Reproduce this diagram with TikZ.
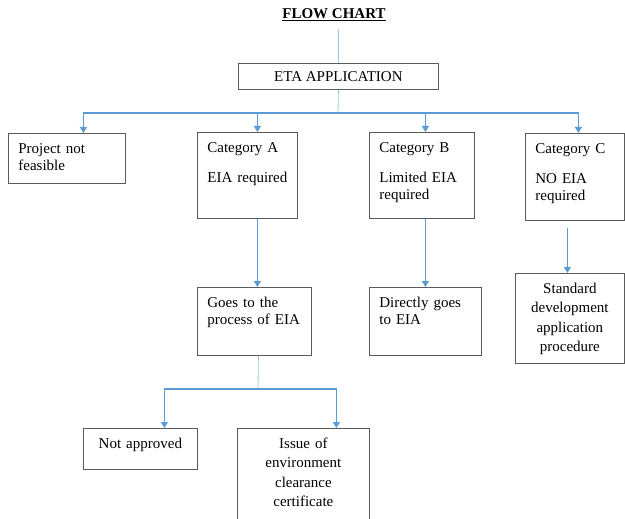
\documentclass[tikz,border=0pt]{standalone}
\usepackage{fontspec}
\setmainfont{Liberation Serif}
\usepackage{xcolor}
\usetikzlibrary{positioning, arrows.meta}
\definecolor{flowblue}{RGB}{91,155,213}
\definecolor{paleblue}{RGB}{160,196,220}
\definecolor{boxgray}{RGB}{90,90,90}

\begin{document}
\begin{tikzpicture}[x=1pt, y=-1pt]
    % Block styles
    \tikzstyle{block} = [rectangle, draw=boxgray, line width=0.8pt, anchor=north west, align=left, inner xsep=10pt, inner ysep=8pt, text height=12pt, font=\fontsize{15}{17.5}\selectfont]
    \tikzstyle{cblock} = [block, align=center, font=\fontsize{15}{19.5}\selectfont]
    \tikzstyle{feed} = [draw=paleblue, line width=0.8pt]
    \tikzstyle{flow} = [draw=flowblue, line width=1.2pt, -{Triangle[width=7pt,length=6pt]}]

    \useasboundingbox (0,0) rectangle (625,519);
    \clip (0,0) rectangle (625,519);

    % Title and application
    \node[font=\fontsize{15}{18}\selectfont\bfseries, inner ysep=8pt] (title) at (334,15) {\underline{FLOW CHART}};
    \node[rectangle, draw=boxgray, line width=0.8pt, minimum width=200pt, minimum height=26pt, anchor=north west, font=\fontsize{15}{18}\selectfont] (eta) at (238,63) {ETA APPLICATION};

    % Categories
    \node[block, text width=97pt, text depth=22pt] (proj) at (8,133) {Project not\\feasible};
    \node[block, text width=80pt, text depth=58pt] (catA) at (197,132) {Category A\\[12.5pt]EIA~required};
    \node[block, text width=85pt, text depth=58pt] (catB) at (369,132) {Category B\\[12.5pt]Limited EIA\\required};
    \node[block, text width=79pt, text depth=59pt] (catC) at (525,133) {Category C\\[12.5pt]NO EIA\\required};

    % Next steps
    \node[block, text width=94pt, text depth=40pt] (goes) at (197,287) {Goes to the\\process of EIA};
    \node[block, text width=92pt, text depth=40pt] (direct) at (369,287) {Directly goes\\to EIA};
    \node[cblock, text width=89pt, text depth=62pt] (std) at (515,273) {Standard\\development\\application\\procedure};

    % Outcomes
    \node[cblock, text width=94pt, text depth=13pt] (notappr) at (83,428) {Not approved};
    \node[cblock, text width=112pt, text depth=89pt] (issue) at (237,428) {Issue of\\environment\\clearance\\certificate};

    % Connections
    \coordinate (split) at (338,113);
    \coordinate (split2) at (258,389);
    \draw[feed] (title.south -| eta.north) -- (eta.north);
    \draw[feed] (eta.south) -- (split);
    \draw[flow] (split) -| ([xshift=16.5pt]proj.north);
    \draw[flow] (split) -| ([xshift=10pt]catA.north);
    \draw[flow] (split) -| ([xshift=3.5pt]catB.north);
    \draw[flow] (split) -| ([xshift=3.5pt]catC.north);

    \draw[flow] ([xshift=10pt]catA.south) -- ([xshift=10pt]catA.south |- goes.north);
    \draw[flow] ([xshift=3.5pt]catB.south) -- ([xshift=3.5pt]catB.south |- direct.north);
    \draw[flow, shorten <=7pt] ([xshift=-7.5pt]catC.south) -- ([xshift=-7.5pt]catC.south |- std.north);

    \draw[feed] ([xshift=4pt]goes.south) -- (split2);
    \draw[flow] (split2) -| ([xshift=24pt]notappr.north);
    \draw[flow] (split2) -| ([xshift=33pt]issue.north);
\end{tikzpicture}
\end{document}
